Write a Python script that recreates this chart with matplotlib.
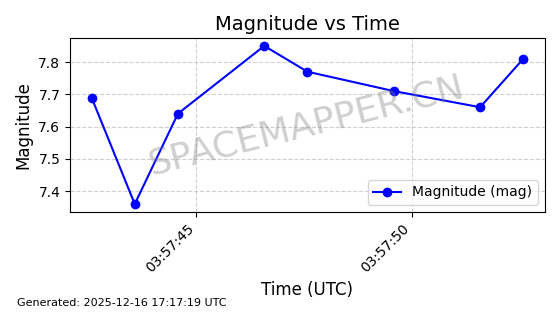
from datetime import datetime

import matplotlib
matplotlib.use("Agg")
import matplotlib.dates as mdates
from matplotlib import pyplot as plt

times = [
    "2025-12-16 03:57:42.57",
    "2025-12-16 03:57:43.57",
    "2025-12-16 03:57:44.57",
    "2025-12-16 03:57:46.57",
    "2025-12-16 03:57:47.57",
    "2025-12-16 03:57:49.57",
    "2025-12-16 03:57:51.57",
    "2025-12-16 03:57:52.57",
]
magnitudes = [7.69, 7.36, 7.64, 7.85, 7.77, 7.71, 7.66, 7.81]
y_ticks = [7.4, 7.5, 7.6, 7.7, 7.8]

t = [datetime.strptime(s, "%Y-%m-%d %H:%M:%S.%f") for s in times]

fig = plt.figure(figsize=(5.6, 3.14), dpi=100)
ax = fig.add_axes([0.125, 0.325, 0.848, 0.554])

ax.plot(t, magnitudes, "o-", color="blue", markersize=6, linewidth=1.5,
        label="Magnitude (mag)")

ax.xaxis.set_major_locator(mdates.SecondLocator(bysecond=range(0, 60, 5)))
ax.xaxis.set_major_formatter(mdates.DateFormatter("%H:%M:%S"))
plt.setp(ax.get_xticklabels(), rotation=45, ha="right")
ax.set_yticks(y_ticks)

ax.grid(True, linestyle="--", alpha=0.6)
ax.set_title("Magnitude vs Time", fontsize=14)
ax.set_xlabel("Time (UTC)", fontsize=12)
ax.set_ylabel("Magnitude", fontsize=12)
ax.legend(loc="lower right")

fig.text(0.547, 0.60, "SPACEMAPPER.CN", fontsize=26, color="gray", alpha=0.38,
         rotation=14, ha="center", va="center")
fig.text(0.03, 0.025, "Generated: 2025-12-16 17:17:19 UTC", fontsize=8)

fig.savefig("out.png", dpi=100)
